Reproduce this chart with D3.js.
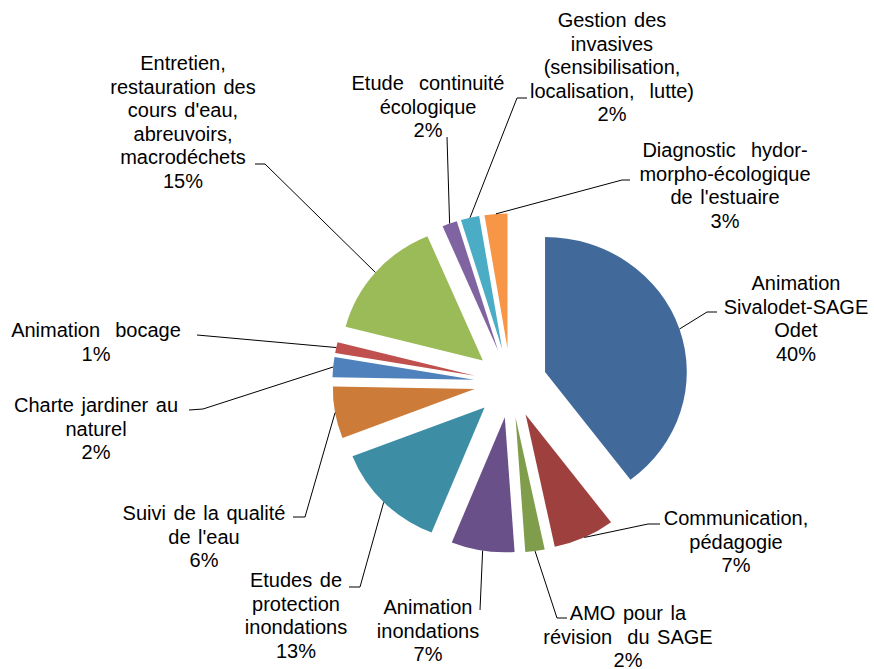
<!DOCTYPE html>
<html>
<head>
<meta charset="utf-8">
<script src="https://cdn.jsdelivr.net/npm/d3@7"></script>
<style>
  html, body { margin: 0; padding: 0; background: #fff; }
  svg { display: block; }
  text { font-family: "Liberation Sans", Arial, sans-serif; font-size: 20px; fill: #000; white-space: pre; }
</style>
</head>
<body>
<svg id="chart" width="874" height="669"></svg>
<script>
// ---- data ----
const categories = [
  "Animation\nSivalodet-SAGE\nOdet",
  "Communication,\npédagogie",
  "AMO pour la\nrévision  du SAGE",
  "Animation\ninondations",
  "Etudes de\nprotection\ninondations",
  "Suivi de la qualité\nde l'eau",
  "Charte jardiner au\nnaturel",
  "Animation  bocage",
  "Entretien,\nrestauration des\ncours d'eau,\nabreuvoirs,\nmacrodéchets",
  "Etude  continuité\nécologique",
  "Gestion des\ninvasives\n(sensibilisation,\nlocalisation,  lutte)",
  "Diagnostic  hydor-\nmorpho-écologique\nde l'estuaire"
];
const values = [39.7, 7.0, 2.2, 7.2, 13.0, 6.2, 2.4, 1.3, 14.6, 1.7, 2.1, 2.6];
const colors = ["#416A9B", "#9E413E", "#7F9D4A", "#6A5089", "#3D8DA5", "#CD7B38",
                "#4F81BD", "#C0504D", "#9BBB59", "#8064A2", "#4BACC6", "#F79646"];

// ---- layout (label block centre x, first line centre y, leader elbow, leader end) ----
const labelX      = [796, 736, 628, 428, 296, 204,  96,  96, 183, 428, 612, 725];
const labelY      = [283, 518, 613, 607, 580, 513, 405, 330,  63,  83,  20, 150];
const leaderElbow = [[707,312],[648,524],[557,618],[480,610],[360,587],[305,517],
                     [203,409],[197,335],[265,164],[447,137],[517,98],[622,180]];
const leaderEnd   = [[717,312],[660,524],[567,618],[480,610],[349,587],[293,517],
                     [189,410],[197,335],[255,164],[447,137],[527,98],[630,180]];

const cx = 510.5, cy = 383, radius = 135, explode = 34.7, sx = 1.05, lineH = 23.6;

const svg = d3.select("#chart");
const total = d3.sum(values);
const pct = d3.format(".0%");

const pie = d3.pie().sort(null).value(d => d)(values);
const arc = d3.arc().innerRadius(0).outerRadius(radius);

const g = svg.append("g").attr("transform", `translate(${cx},${cy}) scale(${sx},1)`);
g.selectAll("path").data(pie).join("path")
  .attr("d", arc)
  .attr("fill", (d, i) => colors[i])
  .attr("transform", d => {
    const m = (d.startAngle + d.endAngle) / 2;
    return `translate(${explode * Math.sin(m)},${-explode * Math.cos(m)})`;
  });

// leader lines
const line = d3.line();
svg.append("g").selectAll("path").data(pie).join("path")
  .attr("fill", "none")
  .attr("stroke", "#000")
  .attr("stroke-width", 1)
  .attr("d", (d, i) => {
    const m = (d.startAngle + d.endAngle) / 2;
    const rr = explode + radius;
    const start = [cx + sx * rr * Math.sin(m), cy - rr * Math.cos(m)];
    return line([start, leaderElbow[i], leaderEnd[i]]);
  });

// labels
const labels = svg.append("g").selectAll("text").data(pie).join("text")
  .attr("text-anchor", "middle")
  .attr("word-spacing", "2px");
labels.each(function(d, i) {
  const lines = categories[i].split("\n").concat([pct(values[i] / total)]);
  const t = d3.select(this);
  lines.forEach((s, k) => {
    t.append("tspan")
      .attr("x", labelX[i])
      .attr("y", labelY[i] + k * lineH + 7)
      .text(s);
  });
});
</script>
</body>
</html>
